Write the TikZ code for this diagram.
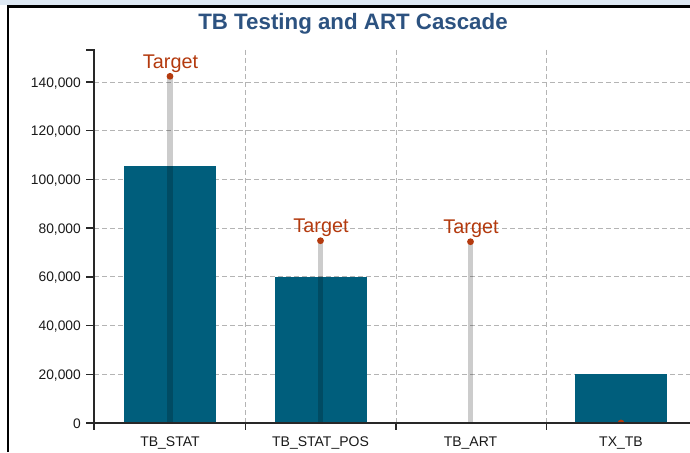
\documentclass[tikz,border=0pt]{standalone}
\usepackage{fontspec}
\setmainfont{Liberation Sans}
\definecolor{barc}{RGB}{0,94,124}
\definecolor{titlec}{RGB}{44,82,128}
\definecolor{targc}{RGB}{180,58,14}
\definecolor{gridc}{RGB}{180,180,180}
\definecolor{stripc}{RGB}{221,232,243}
\definecolor{axisc}{RGB}{40,40,40}
\tikzset{
  gridline/.style={draw=gridc, line width=0.9pt, dash pattern=on 5pt off 3pt},
  barbox/.style={fill=barc},
  targline/.style={draw=black, draw opacity=0.2, line width=5.3pt},
  targdot/.style={circle, fill=targc, inner sep=0pt, minimum size=6.8pt},
  targlabel/.style={text=targc, font=\fontsize{19.8}{22}\selectfont, anchor=base, inner sep=0pt},
  ticklabel/.style={text=black!90, font=\fontsize{13.8}{16}\selectfont, anchor=base east, inner sep=0pt},
  catlabel/.style={text=black!90, font=\fontsize{14}{16}\selectfont, anchor=base, inner sep=0pt},
  axisline/.style={draw=axisc, line width=1.5pt},
}
\begin{document}
\begin{tikzpicture}[x=1pt, y=-1pt]
\useasboundingbox (0,0) rectangle (690,452);
\fill[white] (0,0) rectangle (690,452);
% top strip and frame
\fill[stripc] (0,0) rectangle (690,5);
\draw[black, line width=2.7pt] (8,452) -- (8,6.3) -- (690,6.3);
% title
\node[anchor=base, text=titlec, font=\fontsize{22.3}{26}\selectfont\bfseries, inner sep=0pt] (title) at (353,30) {TB Testing and ART Cascade};
% grid
\foreach \yy in {374.29,325.57,276.86,228.14,179.43,130.71,82} {
  \draw[gridline] (94,\yy) -- (690,\yy);
}
\foreach \xx in {245.5,396,546.5} {
  \draw[gridline] (\xx,50) -- (\xx,423);
}
% bars
\fill[barbox] (124,166) rectangle (216,423);
\fill[barbox] (275,276.7) rectangle (367,423);
\fill[barbox] (575,374.3) rectangle (667,423);
% axis base coordinates
\coordinate (b1) at (170,423);
\coordinate (b2) at (320.5,423);
\coordinate (b3) at (470.5,423);
\coordinate (b4) at (621,423);
% target points
\coordinate (t1) at (170,76.3);
\coordinate (t2) at (320.5,240.7);
\coordinate (t3) at (470.5,241.7);
\coordinate (t4) at (621,423);
% target lines
\draw[targline] (t1) -- (b1);
\draw[targline] (t2) -- (b2);
\draw[targline] (t3) -- (b3);
% target dots
\begin{scope}
\clip (94,40) rectangle (690,423);
\node[targdot] (d1) at (t1) {};
\node[targdot] (d2) at (t2) {};
\node[targdot] (d3) at (t3) {};
\node[targdot] (d4) at (t4) {};
\end{scope}
% target labels
\node[targlabel] (l1) at (170.5,68) {Target};
\node[targlabel] (l2) at (321,232.3) {Target};
\node[targlabel] (l3) at (471,233.3) {Target};
% axes
\coordinate (ytop) at (94,50);
\coordinate (origin) at (94,423);
\coordinate (xend) at (690,423);
\draw[axisline] (86,50) -- (ytop) -- (origin) -- (xend);
\foreach \yy in {423,374.29,325.57,276.86,228.14,179.43,130.71,82} {
  \draw[axisline] (86,\yy) -- (94,\yy);
}
\foreach \xx in {94,245.5,396,546.5} {
  \draw[axisline] (\xx,423) -- (\xx,430);
}
% tick labels
\node[ticklabel] (y0) at (81,428) {0};
\node[ticklabel] (y1) at (81,379.29) {20,000};
\node[ticklabel] (y2) at (81,330.57) {40,000};
\node[ticklabel] (y3) at (81,281.86) {60,000};
\node[ticklabel] (y4) at (81,233.14) {80,000};
\node[ticklabel] (y5) at (81,184.43) {100,000};
\node[ticklabel] (y6) at (81,135.71) {120,000};
\node[ticklabel] (y7) at (81,87) {140,000};
% category labels
\node[catlabel] (c1) at (170,446.5) {TB\_STAT};
\node[catlabel] (c2) at (320.5,446.5) {TB\_STAT\_POS};
\node[catlabel] (c3) at (470.5,446.5) {TB\_ART};
\node[catlabel] (c4) at (621,446.5) {TX\_TB};
\end{tikzpicture}
\end{document}
